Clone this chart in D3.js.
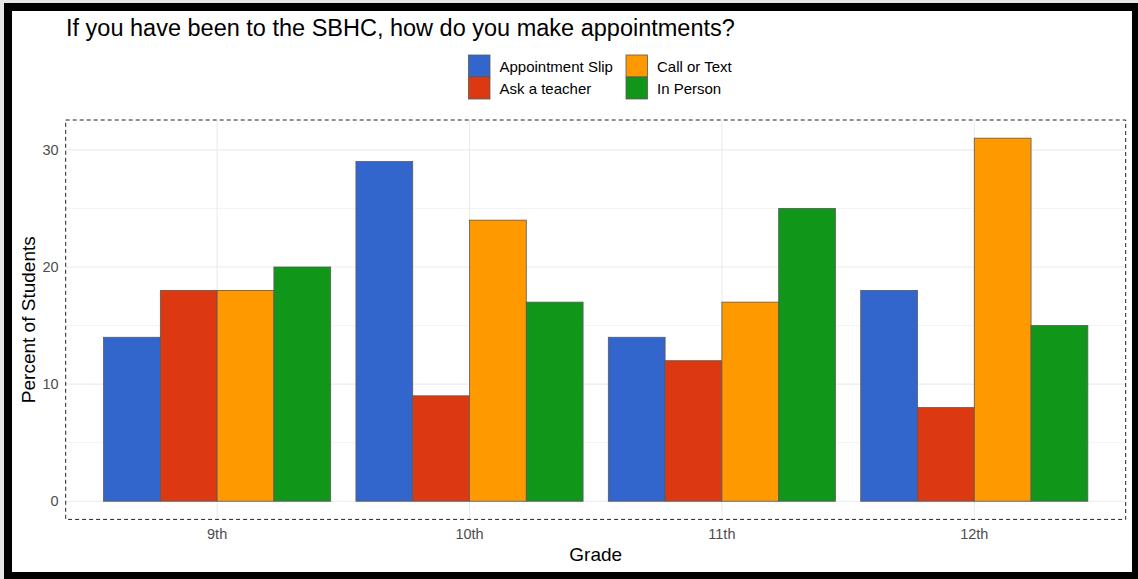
<!DOCTYPE html>
<html>
<head>
<meta charset="utf-8">
<script src="https://cdn.jsdelivr.net/npm/d3@7"></script>
<style>
  body { margin: 0; background: #fff; }
  svg text { font-family: "Liberation Sans", Arial, sans-serif; }
</style>
</head>
<body>
<svg id="chart"></svg>
<script>
// data

var grades = ["9th", "10th", "11th", "12th"];
var methods = ["Appointment Slip", "Ask a teacher", "Call or Text", "In Person"];
var appointmentSlip = [14, 29, 14, 18];
var askTeacher = [18, 9, 12, 8];
var callOrText = [18, 24, 17, 31];
var inPerson = [20, 17, 25, 15];
var yTicks = [0, 10, 20, 30];
var yMinor = [5, 15, 25];
var colors = ["#3366CC", "#DC3912", "#FF9900", "#109618"];

var series = [appointmentSlip, askTeacher, callOrText, inPerson];

// svg params

var svgWidth = 1138, svgHeight = 579;
var panel = {left: 65.7, right: 1125.7, top: 120, bottom: 519.4};

var svg = d3.select("#chart")
    .attr("width", svgWidth)
    .attr("height", svgHeight);

// frame

svg.append("rect")
    .attr("x", 0).attr("y", 0)
    .attr("width", svgWidth).attr("height", svgHeight)
    .attr("fill", "#000");
svg.append("rect")
    .attr("x", 0).attr("y", 0)
    .attr("width", 4).attr("height", svgHeight)
    .attr("fill", "#e6e6e6");
svg.append("rect")
    .attr("x", 0).attr("y", 0)
    .attr("width", svgWidth).attr("height", 3)
    .attr("fill", "#e6e6e6");
svg.append("rect")
    .attr("x", 12).attr("y", 11)
    .attr("width", 1120).attr("height", 561)
    .attr("fill", "#fff");

// scales

var yMax = d3.max(series, function (s) { return d3.max(s); });
var yScale = d3.scaleLinear()
    .domain([-0.05 * yMax, 1.05 * yMax])
    .range([panel.bottom, panel.top]);

var xScale = d3.scaleBand()
    .domain(grades)
    .range([panel.left, panel.right])
    .paddingInner(0.1)
    .paddingOuter(0.15);

var xSub = d3.scaleBand()
    .domain(methods)
    .range([0, xScale.bandwidth()]);

// grid

var grid = svg.append("g");

grid.selectAll("line.minor")
    .data(yMinor)
    .enter()
    .append("line")
    .attr("x1", panel.left).attr("x2", panel.right)
    .attr("y1", function (d) { return yScale(d); })
    .attr("y2", function (d) { return yScale(d); })
    .attr("stroke", "#f0f0f0")
    .attr("stroke-width", 0.8);

grid.selectAll("line.major")
    .data(yTicks)
    .enter()
    .append("line")
    .attr("x1", panel.left).attr("x2", panel.right)
    .attr("y1", function (d) { return yScale(d); })
    .attr("y2", function (d) { return yScale(d); })
    .attr("stroke", "#ebebeb")
    .attr("stroke-width", 1.1);

grid.selectAll("line.vert")
    .data(grades)
    .enter()
    .append("line")
    .attr("x1", function (d) { return xScale(d) + xScale.bandwidth() / 2; })
    .attr("x2", function (d) { return xScale(d) + xScale.bandwidth() / 2; })
    .attr("y1", panel.top).attr("y2", panel.bottom)
    .attr("stroke", "#ebebeb")
    .attr("stroke-width", 1.1);

// bars

var groups = svg.append("g")
    .selectAll("g")
    .data(grades)
    .enter()
    .append("g")
    .attr("transform", function (d) { return "translate(" + xScale(d) + ",0)"; });

groups.selectAll("rect")
    .data(function (d, gi) {
      return methods.map(function (m, i) { return {method: m, value: series[i][gi], i: i}; });
    })
    .enter()
    .append("rect")
    .attr("x", function (d) { return xSub(d.method); })
    .attr("width", xSub.bandwidth())
    .attr("y", function (d) { return yScale(d.value); })
    .attr("height", function (d) { return yScale(0) - yScale(d.value); })
    .attr("fill", function (d) { return colors[d.i]; })
    .attr("stroke", "#595959")
    .attr("stroke-width", 0.8);

// panel border

svg.append("rect")
    .attr("x", panel.left).attr("y", panel.top)
    .attr("width", panel.right - panel.left)
    .attr("height", panel.bottom - panel.top)
    .attr("fill", "none")
    .attr("stroke", "#222")
    .attr("stroke-width", 1)
    .attr("stroke-dasharray", "4,3");

// axes

var yAxis = svg.append("g")
    .attr("transform", "translate(" + panel.left + ",0)")
    .call(d3.axisLeft(yScale).tickValues(yTicks).tickSize(0).tickPadding(7));
var xAxis = svg.append("g")
    .attr("transform", "translate(0," + panel.bottom + ")")
    .call(d3.axisBottom(xScale).tickSize(0).tickPadding(9));

[yAxis, xAxis].forEach(function (ax) {
  ax.select(".domain").remove();
  ax.selectAll("text")
    .attr("fill", "#4d4d4d")
    .style("font-size", "14.5px")
    .style("font-family", "Liberation Sans, Arial, sans-serif");
});

// titles

svg.append("text")
    .attr("x", 66).attr("y", 36)
    .attr("fill", "#000")
    .style("font-size", "23.5px")
    .text("If you have been to the SBHC, how do you make appointments?");

svg.append("text")
    .attr("x", (panel.left + panel.right) / 2).attr("y", 561)
    .attr("text-anchor", "middle")
    .attr("fill", "#000")
    .style("font-size", "19px")
    .text("Grade");

svg.append("text")
    .attr("transform", "translate(35," + ((panel.top + panel.bottom) / 2) + ") rotate(-90)")
    .attr("text-anchor", "middle")
    .attr("fill", "#000")
    .style("font-size", "19px")
    .text("Percent of Students");

// legend

var legendCols = [468.5, 626];
var legendRows = [55, 77];
var legend = svg.append("g")
    .selectAll("g")
    .data(methods)
    .enter()
    .append("g")
    .attr("transform", function (d, i) {
      return "translate(" + legendCols[Math.floor(i / 2)] + "," + legendRows[i % 2] + ")";
    });

legend.append("rect")
    .attr("width", 21.5).attr("height", 22)
    .attr("fill", function (d) { return colors[methods.indexOf(d)]; })
    .attr("stroke", "#595959")
    .attr("stroke-width", 0.8);

legend.append("text")
    .attr("x", 31).attr("y", 17)
    .attr("fill", "#000")
    .style("font-size", "15px")
    .text(function (d) { return d; });
</script>
</body>
</html>
